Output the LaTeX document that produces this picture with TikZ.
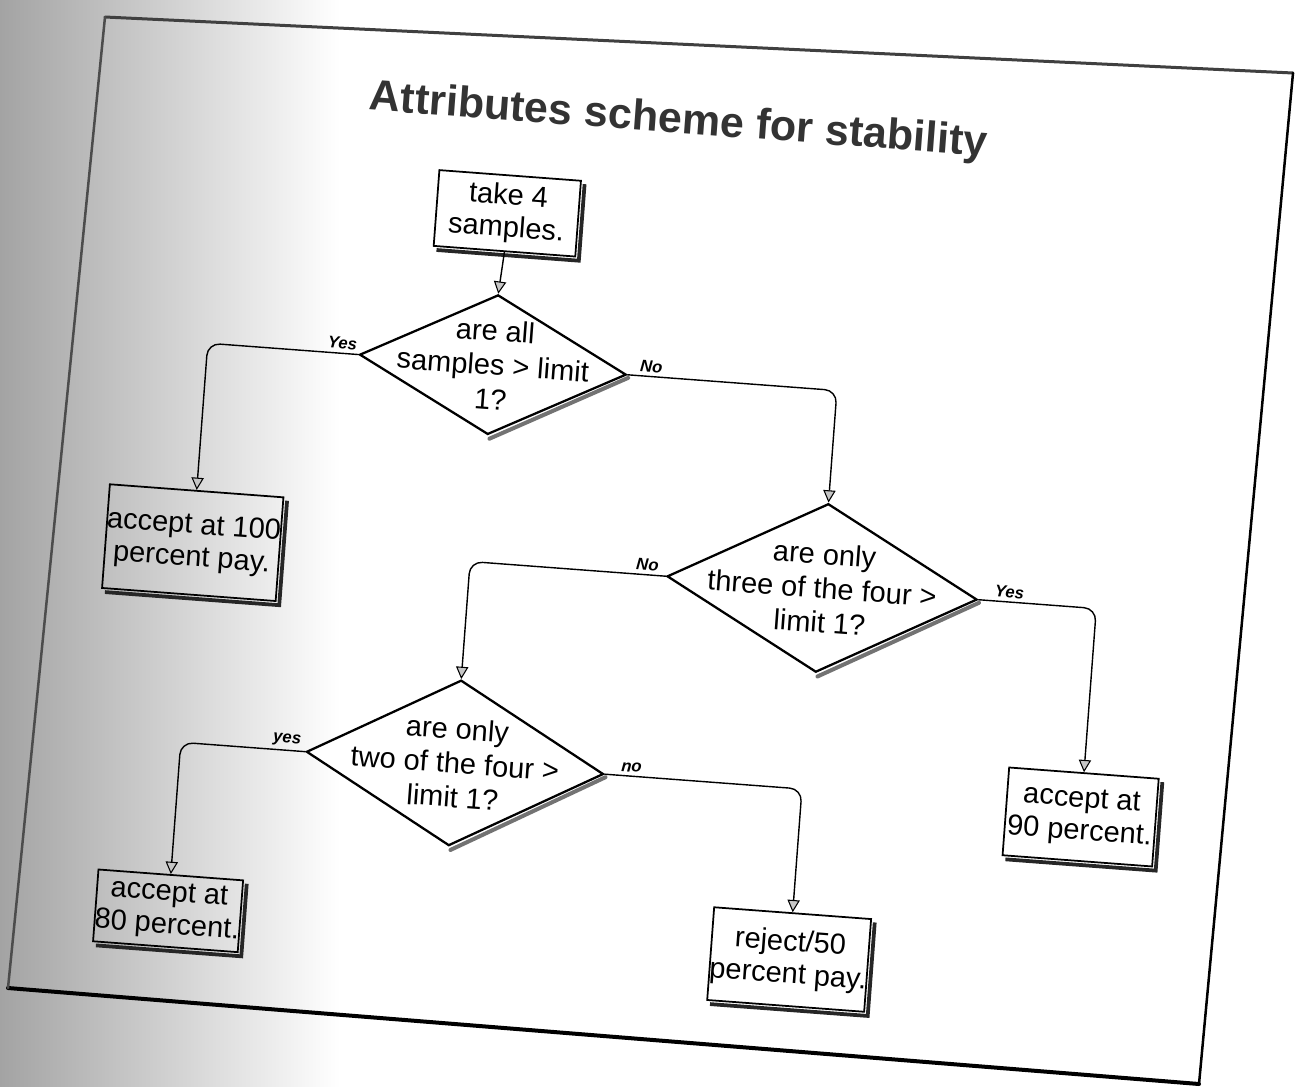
\documentclass[tikz,border=0pt]{standalone}
\usepackage{fontspec}
\setmainfont{Liberation Sans}
\usetikzlibrary{shapes.geometric, arrows.meta, calc}

\begin{document}
\begin{tikzpicture}[x=0.02cm, y=-0.02cm,
  dia/.style={diamond, draw, line width=1.3pt, fill=white, inner sep=0pt},
  dtext/.style={align=center, inner sep=0pt, font=\fontsize{16.5}{19.5}\selectfont},
  box/.style={draw, line width=1pt, align=center, inner xsep=0pt, inner ysep=0pt,
              font=\fontsize{16.5}{18.5}\selectfont},
  conn/.style={draw, line width=0.8pt, rounded corners=7pt,
               -{Triangle[length=7pt, width=7pt, fill=gray!45, line width=0.6pt]}},
  lab/.style={inner sep=1pt, font=\fontsize{9.5}{11}\selectfont\bfseries\itshape},
  boxshadow/.style={draw=black!85, line width=0.075cm, miter limit=10},
  diashadow/.style={draw=black!55, line width=0.08cm, line cap=round},
  frameedge/.style={draw, line cap=round}
]
\useasboundingbox (0,0) rectangle (1302,1086);
\fill[white] (0,0) rectangle (1302,1086);
% darker band along the left margin of the sheet
\fill[left color=black!36, right color=white] (0,0) rectangle (340,1086);

% sheet outline
\draw[frameedge, black!75, line width=0.06cm] (105,17) -- (1293,73);
\draw[frameedge, black, line width=0.05cm] (1293,73) -- (1199,1084);
\draw[frameedge, black, line width=0.08cm] (1199,1084) -- (8,988);
\draw[frameedge, black!70, line width=0.05cm] (8,988) -- (105,17);

\begin{scope}[transform canvas={rotate around={-4.3:(651,543)}}]
  \node[font=\fontsize{24.5}{28}\selectfont\bfseries, text=black!80] (title) at (647,121)
    {Attributes scheme for stability};

  % process boxes
  \node[box, minimum width=2.84cm, minimum height=1.52cm] (take4) at (483,225) {take 4\\samples.};
  \node[box, minimum width=3.4cm, minimum height=2.08cm] (b100) at (194,577) {accept at 100\\percent pay.};
  \node[box, minimum width=3.0cm, minimum height=1.76cm] (b90) at (1100,784) {accept at\\90 percent.};
  \node[box, minimum width=2.9cm, minimum height=1.44cm] (b80) at (197,946) {accept at\\80 percent.};
  \node[box, minimum width=3.1cm, minimum height=1.86cm] (rej) at (820,948) {reject/50\\percent pay.};

  % decisions
  \node[dia, minimum width=5.35cm, minimum height=2.8cm] (d1) at (480,377) {};
  \node[dtext] (t1) at (d1) {are all\\samples > limit\\1?};
  \node[dia, minimum width=6.22cm, minimum height=3.38cm] (d2) at (825,575) {};
  \node[dtext] (t2) at (d2) {are only\\three of the four >\\limit 1?};
  \node[dia, minimum width=5.96cm, minimum height=3.32cm] (d3) at (472,777) {};
  \node[dtext] (t3) at (d3) {are only\\two of the four >\\limit 1?};

  % shadows
  \foreach \b in {take4,b100,b90,b80,rej}
    \draw[boxshadow] ($(\b.south west)+(4,3)$) -- ($(\b.south east)+(3,3)$) -- ($(\b.north east)+(3,4)$);
  \foreach \d in {d1,d2,d3}
    \draw[diashadow] ($(\d.south)+(2,3)$) -- ($(\d.east)+(1,3)$);

  % connectors
  \draw[conn] (take4.south) -- (d1.north);
  \draw[conn] (d1.west) -- (d1.west -| b100.north) -- (b100.north);
  \draw[conn] (d1.east) -- (d1.east -| d2.north) -- (d2.north);
  \draw[conn] (d2.west) -- (d2.west -| d3.north) -- (d3.north);
  \draw[conn] (d2.east) -- (d2.east -| b90.north) -- (b90.north);
  \draw[conn] (d3.west) -- (d3.west -| b80.north) -- (b80.north);
  \draw[conn] (d3.east) -- (d3.east -| rej.north) -- (rej.north);

  % branch labels
  \node[lab, anchor=south east] (l1) at ($(d1.west)+(0,-2)$) {Yes};
  \node[lab, anchor=south west] (l2) at ($(d1.east)+(10,-2)$) {No};
  \node[lab, anchor=south east] (l3) at ($(d2.west)+(-6,-2)$) {No};
  \node[lab, anchor=south west] (l4) at ($(d2.east)+(14,-2)$) {Yes};
  \node[lab, anchor=south east] (l5) at ($(d3.west)+(-3,-2)$) {yes};
  \node[lab, anchor=south west] (l6) at ($(d3.east)+(14,-2)$) {no};
\end{scope}
\end{tikzpicture}
\end{document}
